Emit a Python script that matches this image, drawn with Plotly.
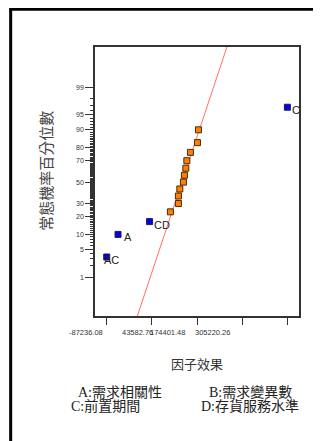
import plotly.graph_objects as go
from statistics import NormalDist

# ---- data ----
effect_names = ["AC", "A", "CD", "", "", "", "", "", "", "", "", "", "", "", "C"]
effect_values = [-87236.08, -54460, 36910, 97240, 120450, 120450, 124510, 134950,
                 137850, 141910, 144810, 155250, 175560, 178460, 436039.04]
percentiles = [3.33, 10.0, 16.67, 23.33, 30.0, 36.67, 43.33, 50.0, 56.67, 63.33,
               70.0, 76.67, 83.33, 90.0, 96.67]
is_labeled = [True, True, True, False, False, False, False, False, False, False,
              False, False, False, False, True]

x_tick_values = [-87236.08, 43582.76, 174401.48, 305220.26, 436039.04]
x_tick_labels = ["-87236.08", "43582.76", "174401.48", "305220.26", ""]
y_major_pct = [1, 5, 10, 20, 30, 50, 70, 80, 90, 95, 99]
y_minor_pct = [p for p in range(2, 99) if p not in y_major_pct]

line_center = 130600.0   # effect at 50th percentile of the reference line
line_sigma = 39360.0     # effect per standard normal unit

legend_left = ["A:需求相關性", "C:前置期間"]
legend_right = ["B:需求變異數", "D:存貨服務水準"]

nd = NormalDist()
def z(p):
    return nd.inv_cdf(p / 100.0)

Z_MIN, Z_MAX = -3.28, 3.31
X_MIN, X_MAX = -121170, 469680

fig = go.Figure()

# reference line
line_z = [Z_MIN, Z_MAX]
fig.add_trace(go.Scatter(x=[line_center + line_sigma * q for q in line_z], y=line_z,
                         mode="lines", line=dict(color="#ff7070", width=1),
                         hoverinfo="skip", showlegend=False))

ox, oy, bx, by = [], [], [], []
for v, p, lab in zip(effect_values, percentiles, is_labeled):
    if lab:
        bx.append(v); by.append(z(p))
    else:
        ox.append(v); oy.append(z(p))

fig.add_trace(go.Scatter(x=ox, y=oy, mode="markers",
                         marker=dict(symbol="square", size=6, color="#ff7f00",
                                     line=dict(color="#4a2a10", width=1)),
                         showlegend=False))
fig.add_trace(go.Scatter(x=bx, y=by, mode="markers",
                         marker=dict(symbol="square", size=6, color="#0000ee",
                                     line=dict(color="#202040", width=1)),
                         showlegend=False))

annotations = []
# point labels
label_shift = {"AC": (-5, -3), "A": (4, -3), "CD": (2, -3), "C": (3, -3)}
for n, v, p, lab in zip(effect_names, effect_values, percentiles, is_labeled):
    if lab:
        dx, dy = label_shift[n]
        annotations.append(dict(x=v, y=z(p), xref="x", yref="y", text=n, showarrow=False,
                                xanchor="left", yanchor="middle", xshift=dx, yshift=dy,
                                font=dict(family="Liberation Sans, Arial", size=11, color="#222")))

# x tick labels (placed as in the reference)
xlab_cfg = [("right", -2), ("right", 3), ("right", -10), ("right", -10)]
for v, t, (anc, sh) in zip(x_tick_values, x_tick_labels, xlab_cfg):
    if t:
        annotations.append(dict(x=v, y=0, xref="x", yref="paper", text=t, showarrow=False,
                                xanchor=anc, yanchor="middle", xshift=sh, yshift=-16,
                                font=dict(family="Liberation Sans, Arial", size=7.5, color="#333")))

# axis titles
annotations.append(dict(x=-0.24, y=0.54, xref="paper", yref="paper", text="常態機率百分位數",
                        textangle=-90, showarrow=False, xanchor="center", yanchor="middle",
                        font=dict(family="Noto Sans CJK TC", size=15, color="#444")))
annotations.append(dict(x=0.5, y=-0.175, xref="paper", yref="paper", text="因子效果",
                        showarrow=False, xanchor="center", yanchor="middle",
                        font=dict(family="Noto Sans CJK TC", size=13, color="#333")))
# legend text
leg_font = dict(family="Liberation Serif, Noto Sans CJK TC", size=14, color="#222")
for i, (l, r) in enumerate(zip(legend_left, legend_right)):
    ypos = -0.283 - i * 0.052
    annotations.append(dict(x=(120 - 95) / 203.7 if i == 0 else (105 - 95) / 203.7, y=ypos,
                            xref="paper", yref="paper", text=l, showarrow=False,
                            xanchor="center", yanchor="middle", font=leg_font))
    annotations.append(dict(x=(250 - 95) / 203.7, y=ypos, xref="paper", yref="paper", text=r,
                            showarrow=False, xanchor="center", yanchor="middle", font=leg_font))

# outer frame (left and top edges)
shapes = [
    dict(type="line", xref="paper", yref="paper", x0=(10.8 - 95) / 203.7, x1=(10.8 - 95) / 203.7,
         y0=(316 - 9.3) / 269, y1=-2, line=dict(color="black", width=3)),
    dict(type="line", xref="paper", yref="paper", x0=(9.3 - 95) / 203.7, x1=3,
         y0=(316 - 9.3) / 269, y1=(316 - 9.3) / 269, line=dict(color="black", width=3)),
]

# page has an 8px body margin, so the figure is offset by 8px
fig.update_layout(
    width=313, height=433,
    margin=dict(l=87, r=22, t=39, b=125),
    paper_bgcolor="white", plot_bgcolor="white",
    annotations=annotations, shapes=shapes,
    showlegend=False,
    xaxis=dict(range=[X_MIN, X_MAX], showgrid=False, zeroline=False,
               showline=True, linecolor="#333", linewidth=1.5, mirror=True,
               tickmode="array", tickvals=x_tick_values, ticktext=["" for _ in x_tick_values],
               ticks="outside", ticklen=7, tickwidth=1, tickcolor="#333"),
    yaxis=dict(range=[Z_MIN, Z_MAX], showgrid=False, zeroline=False,
               showline=True, linecolor="#333", linewidth=1.5, mirror=True,
               tickmode="array", tickvals=[z(p) for p in y_major_pct],
               ticktext=[str(p) for p in y_major_pct],
               ticks="outside", ticklen=8, tickwidth=1, tickcolor="#333",
               tickfont=dict(family="Liberation Sans, Arial", size=7, color="#333"),
               minor=dict(tickmode="array", tickvals=[z(p) for p in y_minor_pct],
                          ticks="outside", ticklen=3, tickwidth=1, tickcolor="#333")),
)

fig.write_html("out.html")
